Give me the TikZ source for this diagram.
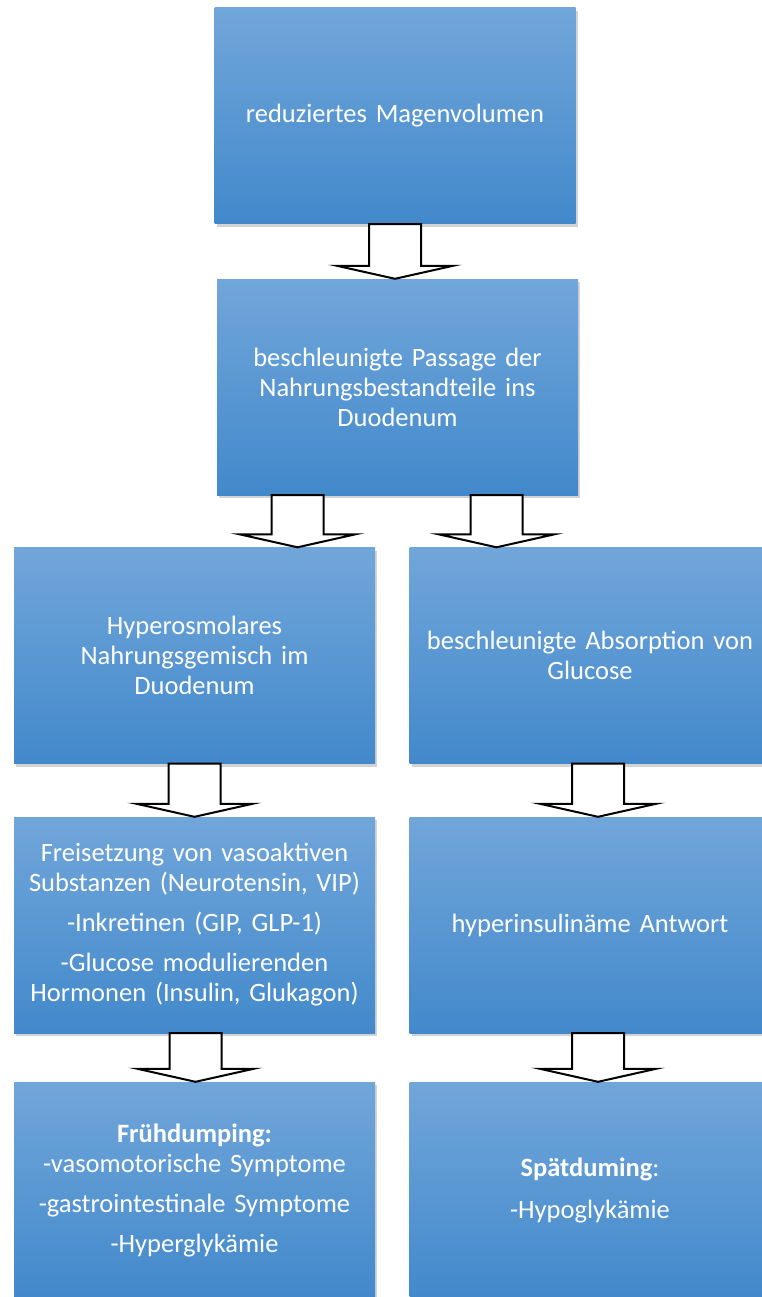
\documentclass[tikz,border=0pt]{standalone}
\usepackage{fontspec}
\setmainfont{Carlito}
\usepackage{tikz}
\usetikzlibrary{calc,shadows}

\definecolor{boxtop}{RGB}{113,166,218}
\definecolor{boxmid}{RGB}{96,158,220}
\definecolor{boxbot}{RGB}{66,137,203}

\tikzset{
  flowbox/.style={rectangle, minimum width=361pt, minimum height=216pt,
    text width=354pt, align=center, text=white, inner sep=0pt,
    top color=boxtop, middle color=boxmid, bottom color=boxbot,
    drop shadow={shadow xshift=2pt, shadow yshift=-3pt, opacity=0.35},
    font=\fontsize{26.5}{30}\selectfont},
  fatarrow/.style={draw=black, fill=white, line width=2pt, line join=miter}
}

% block arrow from (#1) down to (#2)
\newcommand{\blockarrow}[2]{%
  \path[fatarrow] let \p1=(#1), \p2=(#2) in
    (\x1-26pt,\y1) -- (\x1-26pt,\y2+13pt) -- (\x1-58pt,\y2+13pt) -- (\x1,\y2)
    -- (\x1+58pt,\y2+13pt) -- (\x1+26pt,\y2+13pt) -- (\x1+26pt,\y1) -- cycle;}

\begin{document}
\begin{tikzpicture}[x=1pt,y=-1pt]
  \useasboundingbox (0,0) rectangle (761,1297);

  \node[flowbox] (volumen) at (395,116) {reduziertes Magenvolumen};
  \node[flowbox] (passage) at (397.5,387) {beschleunigte Passage der\\ Nahrungsbestandteile ins\\ Duodenum};
  \node[flowbox] (hyperosm) at (194.5,655.5) {Hyperosmolares\\ Nahrungsgemisch im\\ Duodenum};
  \node[flowbox] (absorption) at (590,655.5) {beschleunigte Absorption von\\ Glucose};
  \node[flowbox] (freisetzung) at (194.5,925) {Freisetzung von vasoaktiven\\ Substanzen (Neurotensin, VIP)\\[10pt] -Inkretinen (GIP, GLP-1)\\[10pt] -Glucose modulierenden\\ Hormonen (Insulin, Glukagon)};
  \node[flowbox] (antwort) at (590,925) {hyperinsulinäme Antwort};
  \node[flowbox] (frueh) at (194.5,1190) {\textbf{Frühdumping:}\\ -vasomotorische Symptome\\[10pt] -gastrointestinale Symptome\\[10pt] -Hyperglykämie};
  \node[flowbox] (spaet) at (590,1190) {\textbf{Spätduming}:\\[12pt] -Hypoglykämie};

  \blockarrow{volumen.south}{passage.north}
  \blockarrow{$(passage.south)+(-100,0)$}{$(hyperosm.north)+(103,0)$}
  \blockarrow{$(passage.south)+(99,0)$}{$(absorption.north)+(-93.5,0)$}
  \blockarrow{hyperosm.south}{freisetzung.north}
  \blockarrow{$(absorption.south)+(8,0)$}{$(antwort.north)+(8,0)$}
  \blockarrow{$(freisetzung.south)+(1,0)$}{$(frueh.north)+(1,0)$}
  \blockarrow{$(antwort.south)+(8,0)$}{$(spaet.north)+(8,0)$}
\end{tikzpicture}
\end{document}
